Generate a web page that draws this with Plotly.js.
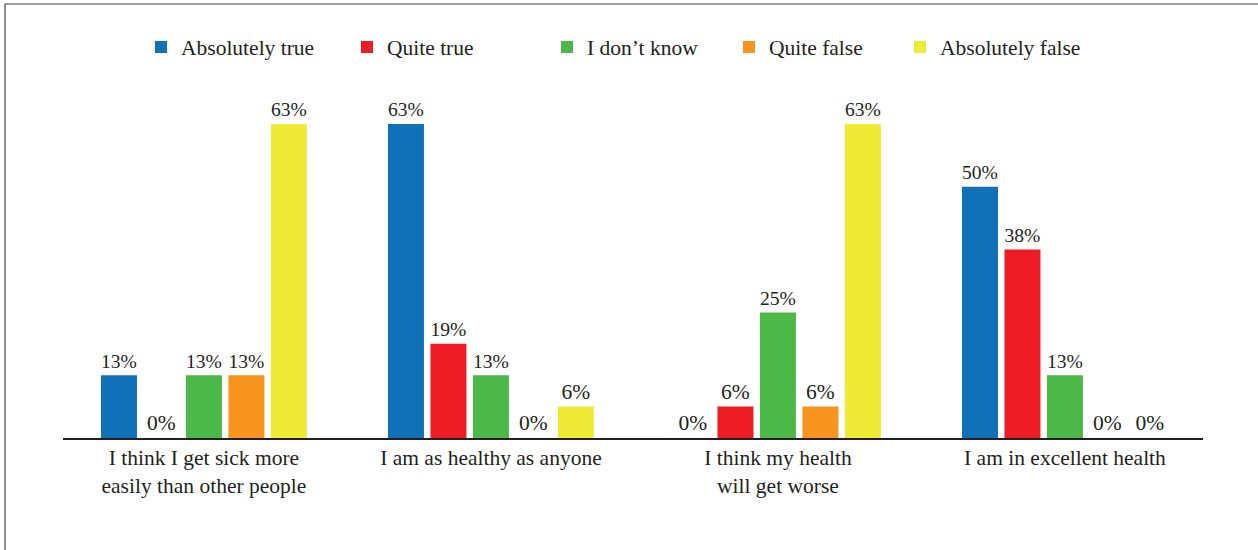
<!DOCTYPE html>
<html>
<head>
<meta charset="utf-8">
<script src="https://cdn.plot.ly/plotly-3.0.1.min.js"></script>
<style>
html,body{margin:0;padding:0;background:#fff;}
#chart{width:1258px;height:550px;}
</style>
</head>
<body>
<div id="chart"></div>
<script>
var categories = [
  "I think I get sick more<br>easily than other people",
  "I am as healthy as anyone",
  "I think my health<br>will get worse",
  "I am in excellent health"
];
var seriesNames = ["Absolutely true", "Quite true", "I don\u2019t know", "Quite false", "Absolutely false"];
var absolutelyTrue  = [12.5, 62.5, 0, 50];
var quiteTrue       = [0, 18.75, 6.25, 37.5];
var dontKnow        = [12.5, 12.5, 25, 12.5];
var quiteFalse      = [12.5, 0, 6.25, 0];
var absolutelyFalse = [62.5, 6.25, 62.5, 0];
var colors = ["#1071b9", "#ee1c25", "#4cb848", "#f7941d", "#eeea35"];

var allSeries = [absolutelyTrue, quiteTrue, dontKnow, quiteFalse, absolutelyFalse];
var legendIds = ["legend", "legend2", "legend3", "legend4", "legend5"];
var fontFam = "Liberation Serif";
var txtColor = "#231f20";
var fs = 21.5;

var traces = allSeries.map(function (vals, i) {
  return {
    type: "bar",
    name: seriesNames[i],
    x: categories,
    y: vals,
    text: vals.map(function (v) { return Math.round(v) + "%"; }),
    textposition: "outside",
    cliponaxis: false,
    textfont: {family: fontFam, size: fs, color: txtColor},
    marker: {color: colors[i], line: {width: 0}},
    legend: legendIds[i],
    hoverinfo: "skip"
  };
});

// legend pixel positions converted to paper coords (plot area 63..1203)
var legendPx = [141, 347, 547, 729, 900];
var layout = {
  width: 1258, height: 550,
  margin: {l: 63, r: 55, t: 20, b: 112},
  paper_bgcolor: "#fff", plot_bgcolor: "#fff",
  barmode: "group",
  bargap: 0.26,
  bargroupgap: 0.153,
  font: {family: fontFam, size: fs, color: txtColor},
  xaxis: {
    range: [-0.491, 3.481],
    showline: true, linecolor: txtColor, linewidth: 1.5,
    ticks: "", showgrid: false, zeroline: false,
    tickfont: {family: fontFam, size: fs, color: txtColor},
    fixedrange: true
  },
  yaxis: {
    range: [0, 83.2], visible: false, showgrid: false, zeroline: false, fixedrange: true
  },
  shapes: [{
    type: "rect", xref: "paper", yref: "paper",
    x0: (5 - 63) / 1140, x1: 1.2, y0: -0.5, y1: (438 - 4) / 418,
    line: {color: "#444", width: 1.2}, fillcolor: "rgba(0,0,0,0)", layer: "below"
  }],
  showlegend: true
};
legendIds.forEach(function (id, i) {
  layout[id] = {
    x: (legendPx[i] - 63) / 1140, xanchor: "left",
    y: (438 - 47) / 418, yanchor: "middle",
    orientation: "h",
    bgcolor: "rgba(0,0,0,0)",
    font: {family: fontFam, size: fs, color: txtColor}
  };
});

Plotly.newPlot("chart", traces, layout, {displayModeBar: false, staticPlot: true});
</script>
</body>
</html>
